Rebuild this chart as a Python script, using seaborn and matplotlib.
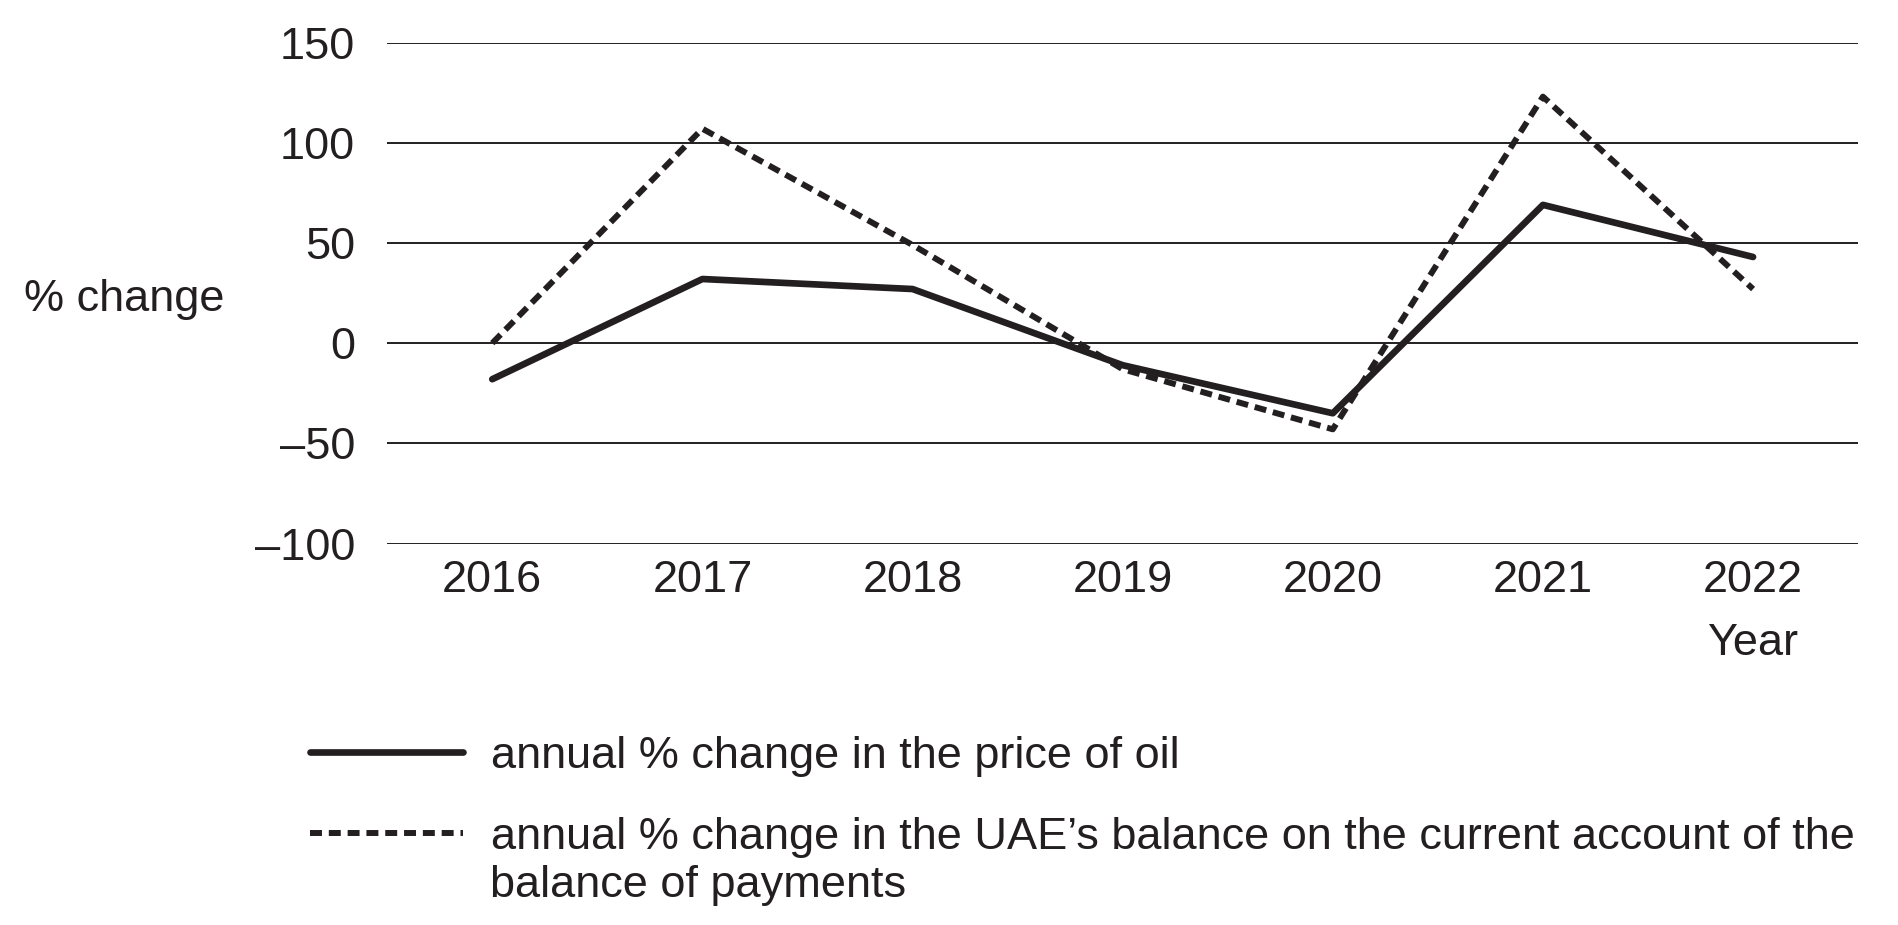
import numpy as np
import pandas as pd
import matplotlib
matplotlib.use("Agg")
import matplotlib.pyplot as plt
import seaborn as sns

years = [2016, 2017, 2018, 2019, 2020, 2021, 2022]
oil_price_change = [-18, 32, 27, -11, -35, 69, 43]
current_account_change = [0, 107, 49, -13, -43, 123, 27]

y_ticks = [-100, -50, 0, 50, 100, 150]
y_tick_labels = ["–100", "–50", "0", "50", "100", "150"]

oil_label = "annual % change in the price of oil"
ca_label = "annual % change in the UAE’s balance on the current account of the"
ca_label_cont = "balance of payments"

ink = "#231f20"
fs = 32.5

sns.set_style("white")
plt.rcParams["font.family"] = ["Liberation Sans", "DejaVu Sans"]

fig = plt.figure(figsize=(18.98, 9.25), dpi=100)
ax = fig.add_axes([0.204, 0.4124, 0.775, 0.5416])

# grid lines drawn as plain horizontal lines
for t in y_ticks:
    ax.axhline(t, color=ink, lw=1.4, zorder=1)

sns.lineplot(x=years, y=oil_price_change, ax=ax, color=ink, lw=4.8,
             label=oil_label, zorder=3)
sns.lineplot(x=years, y=current_account_change, ax=ax, color=ink, lw=4.3,
             linestyle=(0, (2.0, 1.15)), label=ca_label, zorder=3)

ax.set_xlim(2015.5, 2022.5)
ax.set_ylim(-100, 150)
ax.set_xticks(years)
ax.set_xticklabels([str(y) for y in years])
ax.set_yticks(y_ticks)
ax.set_yticklabels(y_tick_labels)
ax.tick_params(axis="both", length=0, labelsize=fs, colors=ink)
ax.tick_params(axis="x", pad=12)
ax.tick_params(axis="y", pad=23)
for s in ax.spines.values():
    s.set_visible(False)
ax.set_xlabel("")
ax.set_ylabel("")

ax.annotate("Year", xy=(2022, 0), xycoords=("data", "axes fraction"),
            xytext=(0, -72), textcoords="offset points",
            ha="center", va="center", fontsize=fs, color=ink)
fig.text(24 / 1898, 1 - 300 / 925, "% change", ha="left", va="center",
         fontsize=fs, color=ink)

handles, labels = ax.get_legend_handles_labels()
ax.get_legend().remove()
fig.legend(handles, labels, loc="upper left", bbox_to_anchor=(310 / 1898, 1 - 736 / 925),
           frameon=False, fontsize=fs, handlelength=3.4, handletextpad=0.6,
           borderpad=0, borderaxespad=0, labelspacing=0.89, labelcolor=ink)
fig.text(490 / 1898, 1 - 886 / 925, ca_label_cont, ha="left", va="center",
         fontsize=fs, color=ink)

fig.savefig("out.png", dpi=100)
